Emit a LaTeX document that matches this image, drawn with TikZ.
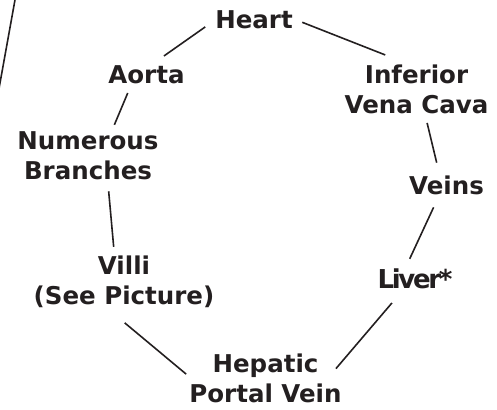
\documentclass[tikz,border=0pt]{standalone}
\usepackage{fontspec}
\setmainfont{DejaVu Sans}
\newfontfamily\liverfont[LetterSpace=-9]{DejaVu Sans}
\usepackage{tikz}
\usetikzlibrary{positioning}
\definecolor{ink}{HTML}{231F20}

\begin{document}
\begin{tikzpicture}[
    x=1pt, y=-1pt,
    on grid,
    every node/.style={inner sep=0pt, align=center, text=ink,
        font=\bfseries\fontsize{24.5}{30}\selectfont},
    link/.style={draw=ink, line width=1.6pt}
]
\useasboundingbox (0,0) rectangle (497,409);

\node (heart) at (254,20) {Heart};
\node (aorta) [below left=54.5pt and 107.5pt of heart] {Aorta};
\node (ivc) [below right=69.5pt and 162.5pt of heart] {Inferior\\Vena Cava};
\node (numerous) [below left=81.5pt and 58.5pt of aorta] {Numerous\\Branches};
\node (veins) [below right=95.5pt and 30pt of ivc] {Veins};
\node (villi) [below right=126pt and 36pt of numerous] {Villi\\(See Picture)};
\node (liver) [below left=94pt and 31.5pt of veins,
    font=\liverfont\bfseries\fontsize{26}{30}\selectfont] {Liver*};
\node (hepatic) [below right=96pt and 141.5pt of villi] {Hepatic\\Portal Vein};

% the cut-off line at the left edge
\coordinate (cut top) at (15.7,-4);
\coordinate (cut bottom) at (-0.9,88);
\draw[link] (cut top) -- (cut bottom);

\draw[link, shorten <=12pt, shorten >=16pt] (heart.west) -- (aorta.65);
\draw[link, shorten <=10pt, shorten >=27pt] (heart.2) -- (ivc.104);
\draw[link, shorten <=10pt, shorten >=7.5pt] (aorta.212) -- (numerous.46);
\draw[link, shorten <=11pt, shorten >=9pt] (numerous.-51) -- (villi.110);
\draw[link, shorten <=23pt, shorten >=4pt] (villi.-123) -- (hepatic.179);
\draw[link, shorten <=-9pt, shorten >=18pt] (hepatic.12) -- (liver.-138);
\draw[link, shorten <=11pt, shorten >=14pt] (liver.134) -- (veins.-126);
\draw[link, shorten <=9pt, shorten >=13pt] (ivc.-71) -- (veins.125);
\end{tikzpicture}
\end{document}
